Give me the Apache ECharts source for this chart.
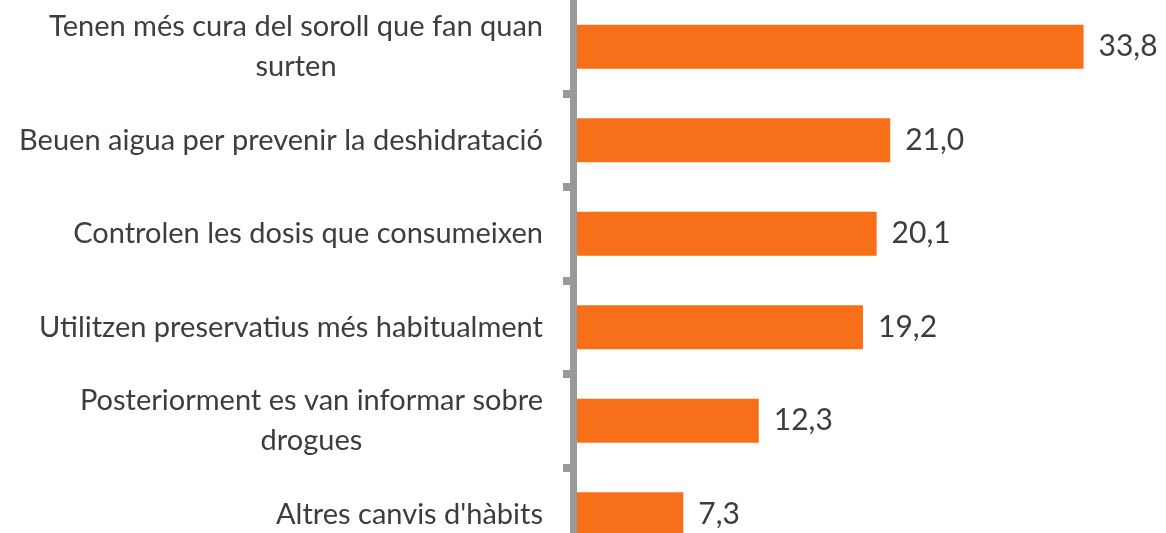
<!DOCTYPE html>
<html>
<head>
<meta charset="utf-8">
<script src="https://cdn.jsdelivr.net/npm/echarts@6/dist/echarts.min.js"></script>
<style>
  html, body { margin: 0; padding: 0; background: #fff; }
  #chart { width: 1166px; height: 533px; }
</style>
</head>
<body>
<div id="chart"></div>
<script>
  // categories, top to bottom
  var categories = [
    'Tenen més cura del soroll que fan quan\nsurten',
    'Beuen aigua per prevenir la deshidratació',
    'Controlen les dosis que consumeixen',
    'Utilitzen preservatius més habitualment',
    'Posteriorment es van informar sobre\ndrogues',
    "Altres canvis d'hàbits"
  ];
  var values = [33.8, 21.0, 20.1, 19.2, 12.3, 7.3];

  var FONT = 'Lato';
  var TEXT = '#3d3d3d';
  var GREY = '#999999';

  var chart = echarts.init(document.getElementById('chart'));
  var chartOptions = {
    animation: false,
    grid: { left: 573, top: 0, width: 574, height: 561, outerBoundsMode: 'none', containLabel: false },
    xAxis: {
      type: 'value',
      min: 0,
      max: 38,
      show: false
    },
    yAxis: {
      type: 'category',
      data: categories,
      inverse: true,
      z: 5,
      axisLine: { show: true, lineStyle: { color: GREY, width: 7 } },
      axisTick: {
        show: true,
        length: 10,
        interval: function (i) { return i !== 0; },
        lineStyle: { color: GREY, width: 8 }
      },
      axisLabel: {
        interval: 0,
        margin: 30,
        formatter: function (v) {
          return v.split('\n').map(function (l) { return '{c|' + l + '}'; }).join('\n');
        },
        rich: {
          c: { align: 'center', fontFamily: FONT, fontSize: 29, lineHeight: 40, color: TEXT }
        }
      }
    },
    series: [
      {
        type: 'bar',
        data: values,
        barWidth: 44,
        itemStyle: { color: '#F76F19' },
        label: {
          show: true,
          position: 'right',
          distance: 15,
          fontFamily: FONT,
          fontSize: 30,
          color: TEXT,
          formatter: function (p) { return p.value.toFixed(1).replace('.', ','); }
        }
      }
    ]
  };
  chart.setOption(chartOptions);
  window.addEventListener('resize', chart.resize);
</script>
</body>
</html>
